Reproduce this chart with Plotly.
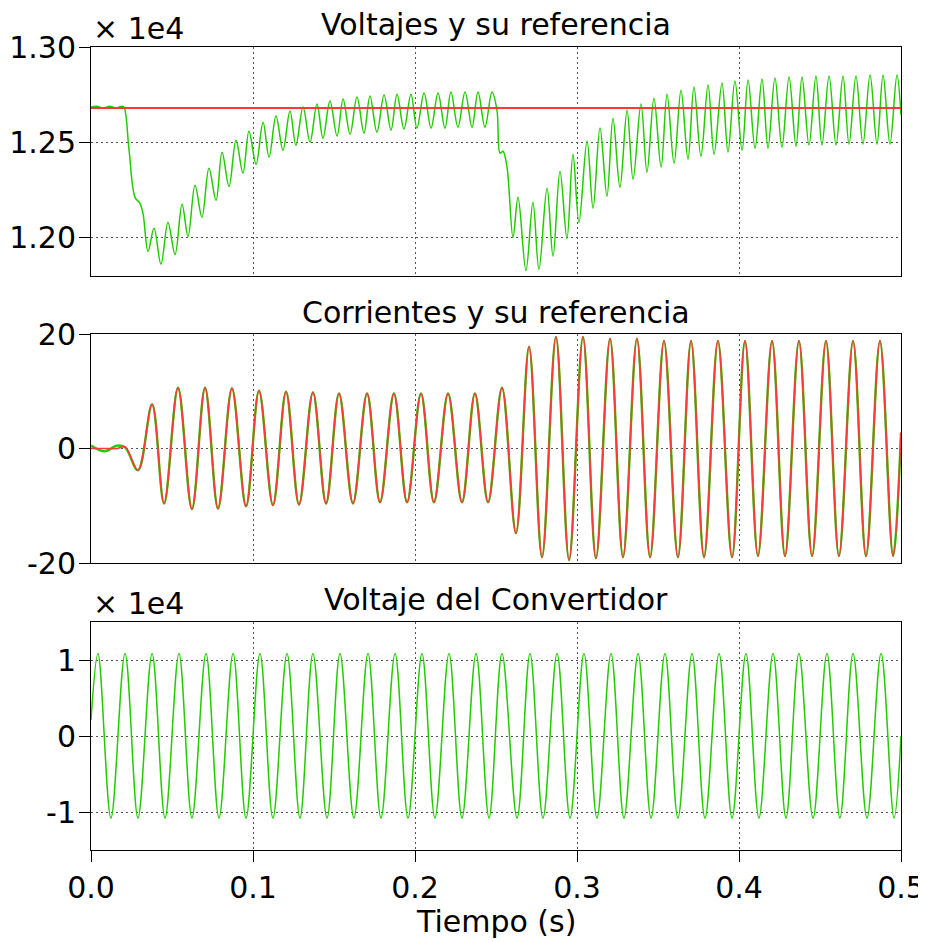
import plotly.graph_objects as go

# ---------------- data ----------------
# Panel 1: DC voltage (extrema of the 120 Hz ripple) and its reference
volt_t = [0.0, 0.0037, 0.0074, 0.0117, 0.0154, 0.0191, 0.0204, 0.0235, 0.0272, 0.0302, 0.0321,
          0.0352, 0.0389, 0.0432, 0.0475, 0.0519, 0.0562, 0.0599, 0.0642, 0.0685, 0.0728,
          0.0772, 0.0809, 0.0852, 0.0895, 0.0938, 0.0975, 0.1019, 0.1062, 0.1099, 0.1142,
          0.1185, 0.1228, 0.1265, 0.1309, 0.1352, 0.1395, 0.1432, 0.1475, 0.1519, 0.1556,
          0.1599, 0.1642, 0.1685, 0.1722, 0.1765, 0.1809, 0.1852, 0.1889, 0.1932, 0.1975,
          0.2012, 0.2056, 0.2099, 0.2142, 0.2185, 0.2222, 0.2265, 0.2309, 0.2352, 0.2389,
          0.2432, 0.2475,
          0.2506, 0.2525, 0.2543, 0.2568,
          0.2605, 0.2636, 0.2685, 0.2728, 0.2765, 0.2815, 0.2852, 0.2895, 0.2938, 0.2975,
          0.3012, 0.3062, 0.3099, 0.3142, 0.3185, 0.3222, 0.3265, 0.3309, 0.3346, 0.3395,
          0.3432, 0.3475, 0.3519, 0.3556, 0.3599, 0.3642, 0.3685, 0.3722, 0.3765, 0.3809,
          0.3846, 0.3895, 0.3932, 0.3975, 0.4019, 0.4056, 0.4099, 0.4142, 0.4179, 0.4222,
          0.4265, 0.4309, 0.4352, 0.4389, 0.4432, 0.4475, 0.4512, 0.4556, 0.4599, 0.4642,
          0.4679, 0.4722, 0.4765, 0.4809, 0.4852, 0.4889, 0.4932, 0.4975, 0.5]
volt_v = [12685, 12690, 12680, 12690, 12680, 12690, 12685, 12459, 12212, 12181, 12128,
          11929, 12050, 11861, 12081, 11913, 12176, 12008, 12276, 12108, 12365,
          12197, 12449, 12270, 12512, 12339, 12559, 12386, 12606, 12423, 12638,
          12459, 12664, 12486, 12685, 12501, 12701, 12522, 12717, 12533, 12727,
          12543, 12738, 12549, 12743, 12554, 12748, 12564, 12753, 12570, 12753,
          12575, 12759, 12575, 12759, 12575, 12764, 12580, 12764, 12580, 12764,
          12580, 12764,
          12669, 12444, 12454, 12370,
          12003, 12213, 11829, 12186, 11835, 12260, 11903, 12349, 11997, 12438,
          12081, 12507, 12155, 12575, 12218, 12627, 12265, 12669, 12307, 12701,
          12344, 12732, 12370, 12753, 12391, 12774, 12412, 12790, 12428, 12801,
          12438, 12811, 12449, 12822, 12459, 12827, 12470, 12832, 12470, 12837,
          12475, 12843, 12480, 12843, 12486, 12848, 12486, 12848, 12486, 12848,
          12491, 12848, 12491, 12853, 12491, 12853, 12491, 12853, 12643]
volt_ref_t = [0.0, 0.5]
volt_ref_v = [12680, 12680]

# Panel 2: current (extrema of the 60 Hz waveform) and its reference
cur_t = [0.0, 0.0086, 0.016, 0.021,
         0.029, 0.0377, 0.0451, 0.0537, 0.0623, 0.0704, 0.0784, 0.0870, 0.0957, 0.1037,
         0.1123, 0.1204, 0.1284, 0.1370, 0.1451, 0.1531, 0.1617, 0.1704, 0.1784, 0.1870,
         0.1951, 0.2037, 0.2117, 0.2204, 0.2290, 0.2370, 0.2451, 0.2537, 0.2623, 0.2704,
         0.2784, 0.2870, 0.2951, 0.3037, 0.3117, 0.3204, 0.3284, 0.3370, 0.3451, 0.3537,
         0.3623, 0.3704, 0.3784, 0.3870, 0.3957, 0.4037, 0.4117, 0.4204, 0.4284, 0.4370,
         0.4451, 0.4537, 0.4617, 0.4704, 0.4784, 0.4870, 0.4951, 0.5]
cur_meas = [0.5, -0.5, 0.5, 0.2,
            -3.8, 7.7, -9.6, 10.6, -10.6, 10.6, -10.5, 10.5, -10.1, 10.1,
            -9.9, 9.9, -9.8, 9.8, -9.6, 9.6, -9.6, 9.6, -9.4, 9.6,
            -9.4, 9.6, -9.4, 9.6, -9.4, 9.6, -9.4, 10.6, -14.8, 17.8,
            -19.0, 19.5, -19.5, 19.5, -19.2, 19.2, -19.0, 19.2, -19.0, 18.8,
            -19.0, 18.8, -19.0, 18.8, -19.0, 18.8, -18.8, 18.8, -18.8, 18.8,
            -18.8, 18.8, -18.8, 18.8, -18.8, 18.8, -18.8, 2.8]
cur_ref = [0.0, 0.0, 0.0, 0.3,
           -3.8, 7.7, -9.6, 10.6, -10.6, 10.6, -10.5, 10.5, -10.1, 10.1,
           -9.9, 9.9, -9.8, 9.8, -9.6, 9.6, -9.6, 9.6, -9.4, 9.6,
           -9.4, 9.6, -9.4, 9.6, -9.4, 9.6, -9.4, 10.6, -14.8, 17.8,
           -19.0, 19.5, -19.5, 19.5, -19.2, 19.2, -19.0, 19.2, -19.0, 18.8,
           -19.0, 18.8, -19.0, 18.8, -19.0, 18.8, -18.8, 18.8, -18.8, 18.8,
           -18.8, 18.8, -18.8, 18.8, -18.8, 18.8, -18.8, 2.8]

# Panel 3: converter voltage (extrema of the 60 Hz waveform)
conv_t = [0.0, 0.0043, 0.0123, 0.0210, 0.0290, 0.0377, 0.0457, 0.0543, 0.0623, 0.0710, 0.0790,
          0.0877, 0.0957, 0.1043, 0.1123, 0.1210, 0.1290, 0.1370, 0.1457, 0.1537, 0.1623,
          0.1710, 0.1790, 0.1877, 0.1957, 0.2043, 0.2123, 0.2210, 0.2290, 0.2377, 0.2457,
          0.2537, 0.2630, 0.2710, 0.2790, 0.2877, 0.2957, 0.3043, 0.3123, 0.3210, 0.3290,
          0.3377, 0.3457, 0.3543, 0.3623, 0.3710, 0.3790, 0.3877, 0.3957, 0.4043, 0.4123,
          0.4210, 0.4290, 0.4370, 0.4457, 0.4543, 0.4623, 0.4704, 0.4790, 0.4877, 0.4957, 0.5]
conv_v = [2100, 10850, -10800, 10850, -10800, 10850, -10800, 10850, -10800, 10850, -10800,
          10850, -10800, 10850, -10800, 10850, -10800, 10850, -10800, 10850, -10800,
          10850, -10800, 10850, -10800, 10850, -10800, 10850, -10800, 10850, -10800,
          10850, -10800, 10850, -10800, 10850, -10800, 10850, -10800, 10850, -10800,
          10850, -10800, 10850, -10800, 10850, -10800, 10850, -10800, 10850, -10800,
          10850, -10800, 10850, -10800, 10850, -10800, 10850, -10800, 10850, -10800, 0]

x_ticks = [0.0, 0.1, 0.2, 0.3, 0.4, 0.5]
x_ticktext = ["0.0", "0.1", "0.2", "0.3", "0.4", "0.5"]
y1_ticks = [12000, 12500, 13000]
y1_ticktext = ["1.20", "1.25", "1.30"]
y2_ticks = [-20, 0, 20]
y2_ticktext = ["-20", "0", "20"]
y3_ticks = [-10000, 0, 10000]
y3_ticktext = ["-1", "0", "1"]

titles = ["Voltajes y su referencia", "Corrientes y su referencia", "Voltaje del Convertidor"]

# ---------------- figure ----------------
# the page body has an 8px margin, so the figure is 8px smaller and all
# target positions (in window pixels) are shifted by 8px
OFF = 8
W, H = 926 - OFF, 942 - OFF
GREEN = "#22cc00"
RED = "#ff3838"
FONT = "DejaVu Sans"


def px_x(px):
    return (px - OFF) / W


def px_y(px):
    return 1 - (px - OFF) / H


fig = go.Figure()
spl = dict(shape="spline", smoothing=1)

fig.add_trace(go.Scatter(x=volt_t, y=volt_v, mode="lines",
                         line=dict(color=GREEN, width=1.5, **spl), xaxis="x", yaxis="y"))
fig.add_trace(go.Scatter(x=volt_ref_t, y=volt_ref_v, mode="lines",
                         line=dict(color=RED, width=2), xaxis="x", yaxis="y"))
fig.add_trace(go.Scatter(x=cur_t, y=cur_meas, mode="lines",
                         line=dict(color=GREEN, width=2.4, **spl), xaxis="x2", yaxis="y2"))
fig.add_trace(go.Scatter(x=cur_t, y=cur_ref, mode="lines",
                         line=dict(color=RED, width=1.6, **spl), xaxis="x2", yaxis="y2"))
fig.add_trace(go.Scatter(x=conv_t, y=conv_v, mode="lines",
                         line=dict(color=GREEN, width=1.5, **spl), xaxis="x3", yaxis="y3"))

xdom = [px_x(91), px_x(901)]
ydoms = [[px_y(276), px_y(47)], [px_y(563), px_y(334)], [px_y(850), px_y(622)]]
grid = dict(showgrid=True, gridcolor="#555555", gridwidth=1, griddash="2px,3px")
frame = dict(showline=True, linecolor="black", linewidth=1, mirror=True, zeroline=False,
             automargin=False)
tickfont = dict(family=FONT, size=30, color="black")

layout = dict(
    width=W, height=H, autosize=False,
    margin=dict(l=0, r=0, t=0, b=0, pad=0),
    paper_bgcolor="white", plot_bgcolor="white",
    showlegend=False,
    font=dict(family=FONT, size=30, color="black"),
)
yinfo = [(y1_ticks, y1_ticktext, [11800, 13000]),
         (y2_ticks, y2_ticktext, [-20, 20]),
         (y3_ticks, y3_ticktext, [-15000, 15000])]
for i in range(3):
    sfx = "" if i == 0 else str(i + 1)
    last = i == 2
    layout["xaxis" + sfx] = dict(
        domain=xdom, range=[0, 0.5], anchor="y" + sfx,
        tickvals=x_ticks, ticktext=x_ticktext,
        showticklabels=last, ticks="outside" if last else "",
        ticklen=11, tickwidth=1, tickcolor="black", tickfont=tickfont,
        ticklabeloverflow="allow",
        **grid, **frame)
    tv, tt, rg = yinfo[i]
    layout["yaxis" + sfx] = dict(
        domain=ydoms[i], range=rg, anchor="x" + sfx,
        tickvals=tv, ticktext=tt, ticks="outside", ticklen=11, tickwidth=1,
        ticklabelstandoff=-3,
        tickcolor="black", tickfont=tickfont, **grid, **frame)

ann = []
for t, ymid in zip(titles, [24.5, 312.5, 599.5]):
    ann.append(dict(text=t, x=px_x(496), y=px_y(ymid), xref="paper", yref="paper",
                    xanchor="center", yanchor="middle", showarrow=False,
                    font=dict(family=FONT, size=30, color="black")))
for ymid in [28.5, 603.5]:
    ann.append(dict(text="× 1e4", x=px_x(91), y=px_y(ymid), xref="paper", yref="paper",
                    xanchor="left", yanchor="middle", showarrow=False,
                    font=dict(family=FONT, size=30, color="black")))
ann.append(dict(text="Tiempo (s)", x=px_x(496), y=px_y(921), xref="paper", yref="paper",
                xanchor="center", yanchor="middle", showarrow=False,
                font=dict(family=FONT, size=30, color="black")))
layout["annotations"] = ann

fig.update_layout(**layout)
fig.write_html("out.html")
